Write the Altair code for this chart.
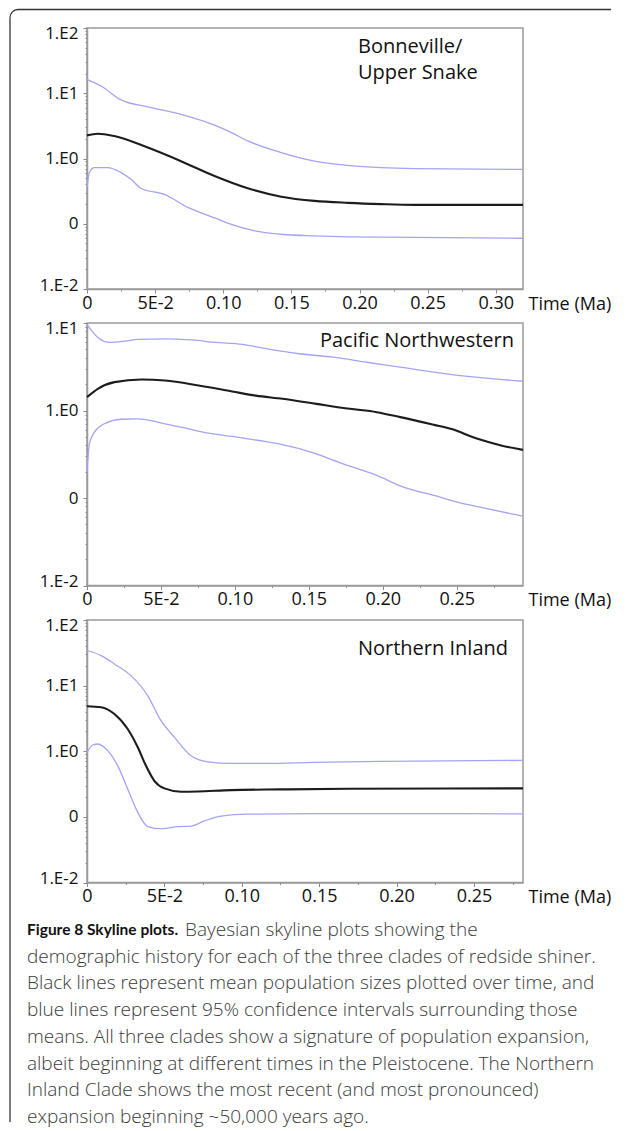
import altair as alt
import pandas as pd

# ---------------- data ----------------
# Panel 1: Bonneville / Upper Snake
p1_t_mean = [0, 0.0078, 0.020, 0.0446, 0.069, 0.0936, 0.118, 0.1426, 0.167, 0.1916, 0.216, 0.2406, 0.32]
p1_mean = [2.26, 2.40, 2.21, 1.47, 0.91, 0.54, 0.35, 0.26, 0.224, 0.209, 0.200, 0.195, 0.195]
p1_t_up = [0, 0.0103, 0.025, 0.0446, 0.069, 0.0936, 0.106, 0.118, 0.1426, 0.167, 0.1916, 0.216, 0.2406, 0.32]
p1_up = [16.3, 12.9, 7.9, 6.2, 4.75, 3.24, 2.49, 1.86, 1.23, 0.91, 0.785, 0.724, 0.70, 0.68]
p1_t_lo = [0, 0.0017, 0.0054, 0.0152, 0.025, 0.0323, 0.0397, 0.0568, 0.074, 0.0936, 0.106, 0.123, 0.1426, 0.167, 0.1916, 0.2406, 0.32]
p1_lo = [0.357, 0.607, 0.724, 0.724, 0.607, 0.48, 0.347, 0.282, 0.178, 0.123, 0.098, 0.078, 0.069, 0.065, 0.063, 0.062, 0.060]

# Panel 2: Pacific Northwestern
p2_t_mean = [0, 0.0073, 0.0186, 0.0368, 0.0527, 0.0755, 0.0982, 0.1141, 0.1323, 0.155, 0.1777, 0.1959, 0.2118, 0.2346, 0.2459, 0.2641, 0.28, 0.2948]
p2_mean = [1.42, 1.77, 2.11, 2.26, 2.20, 1.93, 1.65, 1.48, 1.36, 1.19, 1.045, 0.957, 0.84, 0.685, 0.617, 0.474, 0.398, 0.355]
p2_t_up = [0, 0.0084, 0.0152, 0.0255, 0.0345, 0.0527, 0.0709, 0.0868, 0.105, 0.1209, 0.1437, 0.1664, 0.1891, 0.2118, 0.2346, 0.2573, 0.2948]
p2_up = [9.6, 6.6, 6.0, 6.2, 6.5, 6.6, 6.4, 6.0, 5.7, 5.1, 4.45, 4.07, 3.56, 3.13, 2.74, 2.45, 2.16]
p2_t_lo = [0, 0.0016, 0.005, 0.0118, 0.0232, 0.0345, 0.0527, 0.0686, 0.0823, 0.0982, 0.1164, 0.13, 0.155, 0.1732, 0.1959, 0.2141, 0.2346, 0.2505, 0.2687, 0.2948]
p2_lo = [0.197, 0.416, 0.565, 0.705, 0.794, 0.804, 0.705, 0.617, 0.551, 0.505, 0.454, 0.416, 0.32, 0.245, 0.181, 0.133, 0.107, 0.0895, 0.0766, 0.0619]

# Panel 3: Northern Inland
p3_t_mean = [0, 0.0091, 0.0177, 0.0263, 0.0328, 0.0381, 0.0435, 0.05, 0.0608, 0.0715, 0.0931, 0.1254, 0.1685, 0.2817]
p3_mean = [4.84, 4.68, 3.70, 2.18, 1.15, 0.60, 0.355, 0.272, 0.242, 0.244, 0.256, 0.262, 0.268, 0.272]
p3_t_up = [0, 0.0091, 0.0177, 0.0284, 0.0392, 0.0478, 0.0565, 0.0672, 0.078, 0.0931, 0.1146, 0.147, 0.19, 0.2817]
p3_up = [34.3, 28.7, 21.4, 14.2, 7.05, 2.92, 1.63, 0.855, 0.69, 0.653, 0.653, 0.676, 0.70, 0.726]
p3_t_lo = [0, 0.0037, 0.0069, 0.0134, 0.0198, 0.0263, 0.0328, 0.0392, 0.0478, 0.0586, 0.0672, 0.0759, 0.0866, 0.1039, 0.147, 0.2116, 0.2817]
p3_lo = [0.962, 1.245, 1.29, 1.02, 0.603, 0.265, 0.117, 0.0713, 0.066, 0.0708, 0.0724, 0.087, 0.103, 0.11, 0.112, 0.112, 0.111]

panel_titles = [["Bonneville/", "Upper Snake"], ["Pacific Northwestern"], ["Northern Inland"]]
x_max = [0.32, 0.2948, 0.2817]
x_ticks_1 = [0, 0.025, 0.05, 0.075, 0.1, 0.125, 0.15, 0.175, 0.2, 0.225, 0.25, 0.275, 0.3]
x_ticks_23 = [0, 0.025, 0.05, 0.075, 0.1, 0.125, 0.15, 0.175, 0.2, 0.225, 0.25, 0.275]
y_ticks_100 = [0.01, 0.02, 0.03, 0.04, 0.05, 0.06, 0.07, 0.08, 0.09,
               0.1, 0.2, 0.3, 0.4, 0.5, 0.6, 0.7, 0.8, 0.9,
               1, 2, 3, 4, 5, 6, 7, 8, 9,
               10, 20, 30, 40, 50, 60, 70, 80, 90, 100]
y_ticks_10 = [v for v in y_ticks_100 if v <= 10]
x_title = "Time (Ma)"

caption_bold = "Figure 8 Skyline plots."
caption_lines = [
    "Bayesian skyline plots showing the",
    "demographic history for each of the three clades of redside shiner.",
    "Black lines represent mean population sizes plotted over time, and",
    "blue lines represent 95% confidence intervals surrounding those",
    "means. All three clades show a signature of population expansion,",
    "albeit beginning at different times in the Pleistocene. The Northern",
    "Inland Clade shows the most recent (and most pronounced)",
    "expansion beginning ~50,000 years ago.",
]

# ---------------- styling ----------------
FONT = "Open Sans"
W = 436
BLUE = "#a4a4f4"
BLACK = "#1c1c1c"
GRAY = "#9a9a9a"

X_LABEL = ("datum.value == 0 ? '0' : (abs(datum.value - 0.05) < 1e-9 ? '5E-2' : "
           "(abs(datum.value * 20 - round(datum.value * 20)) < 1e-6 ? format(datum.value, '.2f') : ''))")
Y_LABEL = ("abs(datum.value - 100) < 1e-9 ? '1.E2' : abs(datum.value - 10) < 1e-9 ? '1.E1' : "
           "abs(datum.value - 1) < 1e-9 ? '1.E0' : abs(datum.value - 0.1) < 1e-9 ? '0' : "
           "abs(datum.value - 0.01) < 1e-9 ? '1.E-2' : ''")
Y_MAJOR = "abs(log(datum.value) / LN10 - round(log(datum.value) / LN10)) < 1e-6"
X_MAJOR = "abs(datum.value * 20 - round(datum.value * 20)) < 1e-6"


def series_df(tm, vm, tu, vu, tl, vl):
    rows = []
    for t, v in zip(tm, vm):
        rows.append({"t": t, "v": v, "s": "mean"})
    for t, v in zip(tu, vu):
        rows.append({"t": t, "v": v, "s": "upper"})
    for t, v in zip(tl, vl):
        rows.append({"t": t, "v": v, "s": "lower"})
    return pd.DataFrame(rows)


def make_panel(df, xmax, xticks, ydom, yticks, height, title_lines, tx, ty, talign, frame=False):
    x = alt.X("t:Q",
              scale=alt.Scale(domain=[0, xmax], nice=False, zero=False),
              axis=alt.Axis(values=xticks, labelExpr=X_LABEL, title=x_title,
                            titleX=W + 5, titleY=15, titleAlign="left",
                            titleBaseline="middle", labelPadding=1, labelFontSize=18,
                            tickSize={"condition": {"test": X_MAJOR, "value": 4}, "value": 2},
                            labelFlush=False))
    y_off = {"condition": [
        {"test": f"abs(datum.value - {ydom[1]}) < 1e-9", "value": 5},
        {"test": f"abs(datum.value - {ydom[0]}) < 1e-9", "value": -4}],
        "value": 0}
    y = alt.Y("v:Q",
              scale=alt.Scale(type="log", domain=ydom, nice=False),
              axis=alt.Axis(values=yticks, labelExpr=Y_LABEL, title=None,
                            labelPadding=5, labelFlush=False, labelOffset=y_off,
                            tickSize={"condition": {"test": Y_MAJOR, "value": 4}, "value": 2}))
    ci = alt.Chart(df).transform_filter("datum.s != 'mean'").mark_line(
        color=BLUE, strokeWidth=1.3, interpolate="monotone").encode(x=x, y=y, detail="s:N")
    mean = alt.Chart(df).transform_filter("datum.s == 'mean'").mark_line(
        color=BLACK, strokeWidth=2.1, interpolate="monotone").encode(x=x, y=y)
    layers = [ci, mean]
    for k, line in enumerate(title_lines):
        layers.append(alt.Chart(pd.DataFrame({"label": [line]})).mark_text(
            align=talign, baseline="alphabetic", font=FONT, fontSize=20, color="#111").encode(
            x=alt.value(tx), y=alt.value(ty + 26 * k), text="label:N"))
    if frame:
        one = pd.DataFrame({"a": [0]})
        top = alt.Chart(one).mark_rule(color="#333", strokeWidth=1.3).encode(
            x=alt.value(-69), x2=alt.value(524), y=alt.value(-18.5))
        left = alt.Chart(one).mark_rule(color="#333", strokeWidth=1.3).encode(
            x=alt.value(-77), y=alt.value(-10.5), y2=alt.value(1094))
        corner = alt.Chart(one).mark_arc(color="#333", radius=8.65, radius2=7.35,
                                         theta=4.7124, theta2=6.2832).encode(
            x=alt.value(-69), y=alt.value(-10.5))
        layers += [top, left, corner]
    return alt.layer(*layers).properties(width=W, height=height)


p1 = make_panel(series_df(p1_t_mean, p1_mean, p1_t_up, p1_up, p1_t_lo, p1_lo),
                x_max[0], x_ticks_1, [0.01, 100], y_ticks_100, 261,
                panel_titles[0], 271, 24.7, "left", frame=True)
p2 = make_panel(series_df(p2_t_mean, p2_mean, p2_t_up, p2_up, p2_t_lo, p2_lo),
                x_max[1], x_ticks_23, [0.01, 10], y_ticks_10, 262.5,
                panel_titles[1], 427, 23.5, "right")
p3 = make_panel(series_df(p3_t_mean, p3_mean, p3_t_up, p3_up, p3_t_lo, p3_lo),
                x_max[2], x_ticks_23, [0.01, 100], y_ticks_100, 262.5,
                panel_titles[2], 421, 34.7, "right")

cap_df = pd.DataFrame({"i": list(range(len(caption_lines))), "text": caption_lines})
cap_y = alt.Y("i:Q", scale=alt.Scale(domain=[0, 7], range=[13, 200]), axis=None)
cap_style = dict(align="left", baseline="middle")
cap_first = alt.Chart(cap_df).transform_filter("datum.i == 0").mark_text(
    font=FONT, fontSize=19, fontWeight=300, color="#3a3a3a", **cap_style).encode(
    x=alt.value(98), y=cap_y, text="text:N")
cap_rest = alt.Chart(cap_df).transform_filter("datum.i > 0").mark_text(
    font=FONT, fontSize=19, fontWeight=300, color="#3a3a3a", **cap_style).encode(
    x=alt.value(-60), y=cap_y, text="text:N")
cap_bold = alt.Chart(pd.DataFrame({"i": [0], "text": [caption_bold]})).mark_text(
    font="Lato", fontSize=15.5, fontWeight="bold", color="#111",
    **cap_style).encode(
    x=alt.value(-60), y=cap_y, text="text:N")
cap = alt.layer(cap_first, cap_rest, cap_bold).properties(
    width=W, height=190, view={"stroke": "transparent"})

chart = alt.vconcat(p1, p2, p3, cap, spacing=34, bounds="flush").properties(
    padding=0
).configure_view(
    stroke=GRAY, strokeWidth=1.5
).configure_axis(
    labelFont=FONT, labelFontSize=17, labelColor="#111",
    titleFont=FONT, titleFontSize=18, titleFontWeight="normal", titleColor="#111",
    domainColor=GRAY, domainWidth=1.5, tickColor="#888", grid=False
)

chart.save("out.html", embed_options={"renderer": "svg", "actions": False})
